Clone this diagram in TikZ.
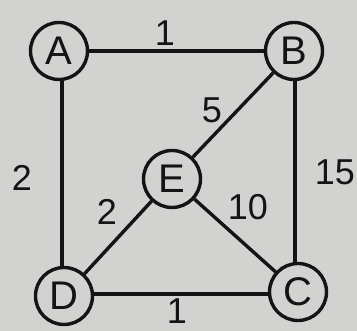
\documentclass[tikz,border=0pt]{standalone}
\usepackage{fontspec}
\setmainfont{Liberation Sans}
\definecolor{bg}{HTML}{D2D2D0}
\definecolor{ink}{HTML}{141414}
\begin{document}
\begin{tikzpicture}[x=1pt,y=-1pt,
  vert/.style={circle,draw=ink,line width=3.4pt,minimum size=57pt,inner sep=0pt,font=\fontsize{40}{40}\selectfont,text=ink},
  edge/.style={draw=ink,line width=3.4pt},
  wt/.style={inner sep=0pt,font=\fontsize{36}{36}\selectfont,text=ink}]
\fill[bg] (0,0) rectangle (357,331);
\useasboundingbox (0,0) rectangle (357,331);
\node[vert] (A) at (59,51) {A};
\node[vert] (B) at (294,51) {B};
\node[vert] (E) at (172,179) {E};
\node[vert] (D) at (64,296) {D};
\node[vert] (C) at (298,292) {C};
\draw[edge] (A) -- (B);
\draw[edge] (A.south -| 62,0) -- (D.north -| 62,0);
\draw[edge] (B.south -| 295,0) -- (C.north -| 295,0);
\draw[edge] (B) -- (E);
\draw[edge] (E) -- (D);
\draw[edge] (E) -- (C);
\draw[edge] (D.east |- 0,294) -- (C.west |- 0,294);
\node[wt] (w1) at (165,33) {1};
\node[wt] (w2) at (212,110) {5};
\node[wt] (w3) at (22,178) {2};
\node[wt] (w4) at (335,172) {15};
\node[wt] (w5) at (107,212) {2};
\node[wt] (w6) at (248,207) {10};
\node[wt] (w7) at (177,311) {1};
\end{tikzpicture}
\end{document}
